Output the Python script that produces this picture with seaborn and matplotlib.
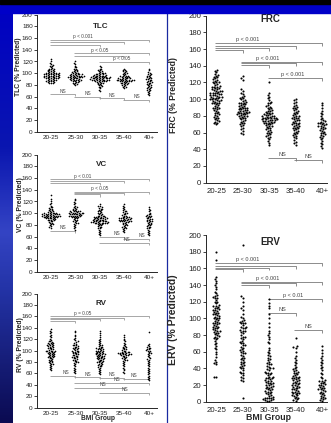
import numpy as np
import pandas as pd
import matplotlib
matplotlib.use("Agg")
import matplotlib.pyplot as plt
import seaborn as sns
from matplotlib.colors import LinearSegmentedColormap
from matplotlib.patches import Rectangle
from matplotlib.lines import Line2D

groups = ["20-25", "25-30", "30-35", "35-40", "40+"]

TLC = [
    [125,121,118,116,114,113,112,110,109,108,107,107,106,105,105,104,103,103,102,102,101,101,100,100,100,99,99,99,98,98,98,97,97,97,96,96,96,95,95,95,94,94,94,93,93,93,92,92,92,91,91,90,90,89,89,88,88,87,87,86,86,85,85,84,84,83,92,96,99,101],
    [120,118,116,113,111,110,108,107,106,105,104,103,102,101,100,100,99,99,98,98,97,97,96,96,96,95,95,95,94,94,94,93,93,92,92,91,91,90,90,89,89,88,88,87,87,86,85,85,84,83,82,81,80,93,97,99,102,94,90,88],
    [112,110,108,107,106,105,104,103,102,101,101,100,100,99,99,98,98,97,97,96,96,96,95,95,95,94,94,94,93,93,93,92,92,92,91,91,91,90,90,90,89,89,89,88,88,88,87,87,86,86,85,85,84,84,83,82,81,80,79,78,77,76,74,72,70,93,95,97,90,88,92,94,91,89,87],
    [108,106,105,104,103,102,101,100,99,98,97,96,96,95,95,94,94,93,93,92,92,91,91,90,90,90,89,89,89,88,88,88,87,87,87,86,86,85,85,84,84,83,83,82,81,80,79,78,77,76,75,91,89,88,86],
    [108,105,102,100,99,98,97,96,95,94,93,92,91,90,90,89,88,87,86,85,85,84,83,82,81,80,79,78,77,76,75,74,73,72,71,70,68,66,64,62],
]
VC = [
    [131,124,120,117,115,113,111,110,109,108,107,106,105,104,103,102,102,101,101,100,100,99,99,98,98,98,97,97,97,96,96,96,95,95,95,94,94,94,93,93,93,92,92,91,91,90,90,89,89,88,88,87,86,85,84,83,82,81,80,78,76,75,96,97,99,94,92,95,100,98],
    [125,122,119,117,115,113,111,110,109,108,107,106,105,104,104,103,103,102,102,101,101,100,100,99,99,98,98,97,97,96,96,95,95,94,94,93,92,91,90,89,88,87,86,85,84,83,82,80,78,76,74,72,100,98,96,103,101,99,95,93],
    [115,113,112,110,109,108,107,106,105,104,103,102,101,100,99,98,97,96,96,95,95,94,94,93,93,92,92,91,91,90,90,89,89,88,88,87,87,86,86,85,85,84,84,83,83,82,82,81,80,79,78,77,76,75,74,72,70,68,66,64,62,86,84,88,85,83,87,90,92,94,84,86,89,91,85],
    [116,113,111,109,107,105,104,103,102,101,100,99,98,97,96,95,94,93,93,92,92,91,91,90,90,89,89,88,88,87,87,86,86,85,84,83,82,81,80,79,78,77,76,75,74,73,72,70,68,90,88,87,92,94,85],
    [110,107,105,103,101,99,98,97,96,95,94,93,92,91,90,89,88,87,86,86,85,84,83,82,81,80,79,78,77,76,75,74,72,70,68,66,64,62,90,95],
]
RV = [
    [138,135,133,130,128,125,123,121,119,117,116,115,114,113,112,111,110,109,108,107,106,105,104,103,102,101,100,100,99,99,98,97,96,95,94,93,92,91,90,89,88,87,86,85,84,83,82,81,80,79,78,77,76,75,73,71,69,67,65,100,104,108,96,92,88,110,113,98,94,90],
    [135,132,128,125,122,120,118,116,114,112,110,109,108,107,106,105,104,103,102,101,100,99,98,97,96,95,94,93,92,91,90,89,88,87,86,85,84,83,82,81,80,79,78,76,74,72,70,68,66,64,62,60,95,100,105,98,92,88,110,115],
    [135,130,127,124,121,119,117,115,113,111,110,109,108,107,106,105,104,103,102,101,100,99,98,97,96,95,94,93,92,91,90,89,88,87,86,85,84,83,82,81,80,79,78,77,76,75,74,73,72,71,70,68,66,64,62,60,58,95,98,100,102,92,90,88,85,82,96,104,94,86,80,99,93,87,91],
    [127,124,121,118,116,114,112,110,108,107,106,105,104,103,102,101,100,99,98,97,97,96,96,95,95,94,94,93,93,92,92,91,90,89,88,87,86,85,84,83,82,80,78,76,74,72,70,68,65,62,60,96,94,92,98],
    [133,112,110,108,106,105,104,103,102,101,100,98,96,95,94,92,90,88,86,85,84,82,80,78,76,74,72,70,68,66,64,62,60,58,56,54,52,50,48,100],
]
FRC = [
    [135,134,132,130,129,128,127,126,125,124,123,122,121,120,120,119,118,117,116,115,115,114,113,112,112,111,110,110,109,108,108,107,106,106,105,105,104,103,103,102,102,101,100,100,99,99,98,97,96,95,95,94,93,92,91,90,89,88,87,86,85,84,83,82,81,80,79,78,77,76,75,74,73,72,71,70,110,105,100,95,90,115,108,103,98],
    [128,125,123,112,110,108,106,104,103,102,101,100,99,98,97,96,95,94,93,92,91,90,90,89,88,87,86,85,85,84,83,82,82,81,80,80,79,78,77,76,75,74,73,72,71,70,69,68,66,64,62,60,58,88,86,84,90,92,82,80,78,85,87,83,94,96],
    [120,107,105,103,101,99,97,96,95,93,92,91,90,89,88,87,86,85,84,83,82,81,80,80,79,78,78,77,77,76,76,75,75,74,74,73,72,71,70,69,68,67,66,65,64,63,62,61,60,59,58,57,56,55,54,52,50,48,45,78,79,80,76,74,72,82,84,86,70,68,75,77,81,73,71],
    [100,99,97,95,93,92,91,90,89,88,87,86,85,84,83,82,81,80,79,78,77,76,75,74,73,72,71,70,69,68,67,66,65,64,63,62,61,60,59,58,57,56,55,53,51,49,47,45,75,78,72,70,80,68,65],
    [96,93,90,86,84,82,80,78,76,75,74,73,72,71,70,70,69,68,67,66,65,64,63,62,61,60,59,58,57,56,55,54,52,50,48,46,44,42,68,72],
]
ERV = [
    [180,170,150,147,145,142,140,138,135,132,130,128,127,126,125,124,122,120,118,116,115,114,113,112,111,110,109,108,107,106,105,104,103,102,101,100,99,98,97,96,95,94,93,92,91,90,89,88,87,86,85,84,83,82,81,80,79,78,77,76,75,73,71,69,67,65,63,60,57,54,50,48,46,45,30,30,110,100,90,105,95,85,120,115],
    [188,127,125,120,115,112,110,105,102,100,98,97,96,95,94,92,90,88,86,85,84,82,80,78,76,75,73,71,70,68,66,65,63,61,60,58,56,55,53,51,50,48,46,45,43,41,40,38,36,34,32,30,28,26,25,5,88,72,62,52,44,95,85,78,68,58,48,42,35,90],
    [123,118,115,112,105,100,95,90,85,82,80,78,75,72,70,65,62,60,58,56,55,53,51,50,48,46,45,43,42,40,39,38,36,35,34,33,32,30,29,28,27,26,25,24,23,22,21,20,19,18,17,16,15,14,13,12,11,10,9,8,7,6,5,5,4,4,3,3,2,2,1,1,30,28,25,22,20,40,35,45,18,15,12],
    [76,67,66,65,60,55,52,50,48,46,44,42,40,39,38,37,36,35,34,33,32,31,30,29,28,27,26,25,24,23,22,21,20,19,18,17,16,15,14,13,12,11,10,9,8,7,6,5,4,3,2,1,20,22,18,15,12,10,8,30,28,26],
    [67,62,58,55,52,50,48,46,44,42,40,38,35,33,30,28,26,25,24,23,22,21,20,19,18,17,16,15,14,13,12,11,10,9,8,7,6,5,4,3,2,1,25,20,15],
]

# comparison brackets: (from group, to group, y, label, label x)
TLC_cmp = [(0,4,157,"p < 0.001",1.3),(0,3,153,"",0),(0,2,149,"",0),
           (1,4,134,"p < 0.05",2.0),(1,3,130,"",0),(2,4,119,"p < 0.05",2.9),
           (0,1,64,"NS",0.5),(1,2,60,"NS",1.5),(2,3,57,"NS",2.5),(3,4,54,"NS",3.5)]
VC_cmp = [(0,4,158,"p < 0.01",1.3),(0,3,155,"",0),(0,2,152,"",0),
          (1,4,137,"p < 0.05",2.0),(1,3,134.5,"",0),(1,2,132,"",0),
          (0,1,70,"NS",0.5),(2,3,59,"NS",2.7),(3,4,56,"NS",3.7),(2,4,49,"NS",3.1)]
RV_cmp = [(0,4,160,"p = 0.05",1.3),(0,3,157,"",0),(0,2,154.5,"",0),(0,1,152.5,"",0),
          (0,1,55,"NS",0.6),(1,2,53,"NS",1.5),(2,3,51.5,"NS",2.5),(3,4,50,"NS",3.4),
          (1,4,43,"NS",2.7),(1,3,34,"NS",2.1),(2,4,26,"NS",3.0)]
FRC_cmp = [(0,4,167,"p < 0.001",1.2),(0,3,164,"",0),(0,2,161.5,"",0),(0,1,159,"",0),
           (1,4,145,"p < 0.001",1.95),(1,3,143,"",0),(1,2,141,"",0),
           (2,4,125,"p < 0.001",2.9),(2,3,30,"NS",2.5),(3,4,27,"NS",3.5)]
ERV_cmp = [(0,4,166,"p < 0.001",1.2),(0,3,163,"",0),(0,2,161,"",0),(0,1,159,"",0),
           (1,4,144,"p < 0.001",1.95),(1,3,142,"",0),(1,2,140,"",0),
           (2,4,123,"p < 0.01",2.9),(2,3,106,"NS",2.5),(3,4,86,"NS",3.5)]

W, H = 331, 423
sns.set_style("ticks")
plt.rcParams['font.family'] = ['Liberation Sans', 'DejaVu Sans']

fig = plt.figure(figsize=(W/100, H/100), dpi=100)
fig.patch.set_facecolor("white")

# slide background
cmap = LinearSegmentedColormap.from_list("bg", [(0, "#0000c4"), (0.35, "#0a16b0"), (0.55, "#3444c4"),
                                               (0.68, "#2434a8"), (1.0, "#0b0b52")])
bga = fig.add_axes([0, 0, 13/W, 1], zorder=-5)
bga.imshow(np.linspace(0, 1, 200)[:, None], cmap=cmap, aspect="auto")
bga.axis("off")
fig.add_artist(Rectangle((0, 1-13/H), 1, 9/H, transform=fig.transFigure, color="#0000c8", zorder=5))
fig.add_artist(Rectangle((0, 1-4/H), 1, 4/H, transform=fig.transFigure, color="black", zorder=6))
fig.add_artist(Line2D([167.5/W, 167.5/W], [0, 1-13/H], transform=fig.transFigure, color="#1a2aa0", lw=0.9))


def rect(l, t, r, b):
    return [l/W, 1-b/H, (r-l)/W, (b-t)/H]


def panel(rc, xlim, values, name, cmps, big, title_y):
    ax = fig.add_axes(rc)
    df = pd.DataFrame({"BMI": np.repeat(groups, [len(v) for v in values]),
                       "val": np.concatenate(values).astype(float)})
    sns.swarmplot(data=df, x="BMI", y="val", order=groups, color="black",
                  size=1.5 if big else 1.2, linewidth=0, ax=ax)
    ax.set_xlim(*xlim)
    ax.set_ylim(0, 200)
    ax.set_yticks(range(0, 201, 20))
    ax.set_xlabel("")
    ax.set_ylabel("")
    for s in ("top", "right"):
        ax.spines[s].set_visible(False)
    for s in ("left", "bottom"):
        ax.spines[s].set_linewidth(0.7)
    fs = 5.6 if big else 4.6
    ax.tick_params(axis="y", length=2, width=0.6, labelsize=fs, pad=1, colors="#222222")
    ax.tick_params(axis="x", length=0, labelsize=fs, pad=4 if big else 2.2, colors="#222222")
    ax.text(2.05, title_y, name, ha="center", va="center", fontsize=7 if big else 5.8, fontweight="bold")
    lc = "#7a7a7a" if big else "#999999"
    drop = 3.5
    for a, b, y, lab, lx in cmps:
        ax.plot([a - 0.05, b, b], [y, y, y - drop], color=lc, lw=0.6, clip_on=False, solid_capstyle="butt")
        if lab:
            ax.text(lx, y + 1.2, lab, ha="center", va="bottom", fontsize=4 if big else 3.4, color="#444444")
    return ax


panel(rect(37, 14.7, 157, 131.7), (-0.571, 4.327), TLC, "TLC", TLC_cmp, False, 180)
panel(rect(37, 154.7, 157, 271.7), (-0.571, 4.327), VC, "VC", VC_cmp, False, 184)
panel(rect(37, 293.5, 157, 407.5), (-0.571, 4.327), RV, "RV", RV_cmp, False, 183)
panel(rect(205.5, 15.7, 327, 182.7), (-0.40, 4.19), FRC, "FRC", FRC_cmp, True, 196)
panel(rect(205.5, 235, 327, 401.7), (-0.40, 4.19), ERV, "ERV", ERV_cmp, True, 192)

# axis labels
fig.text(18/W, 1-67/H, "TLC (% Predicted)", rotation=90, ha="center", va="center", fontsize=4.9, fontweight="bold")
fig.text(20/W, 1-205/H, "VC (% Predicted)", rotation=90, ha="center", va="center", fontsize=4.9, fontweight="bold")
fig.text(20/W, 1-345/H, "RV (% Predicted)", rotation=90, ha="center", va="center", fontsize=4.9, fontweight="bold")
fig.text(173/W, 1-95/H, "FRC (% Predicted)", rotation=90, ha="center", va="center", fontsize=6.2, fontweight="bold")
fig.text(172.5/W, 1-320/H, "ERV (% Predicted)", rotation=90, ha="center", va="center", fontsize=7.5, fontweight="bold")
fig.text(98/W, 0.6/H, "BMI Group", ha="center", va="bottom", fontsize=4.8, fontweight="bold")
fig.text(268/W, 0.8/H, "BMI Group", ha="center", va="bottom", fontsize=6.3, fontweight="bold")

fig.savefig("out.png", dpi=100, facecolor="white")
